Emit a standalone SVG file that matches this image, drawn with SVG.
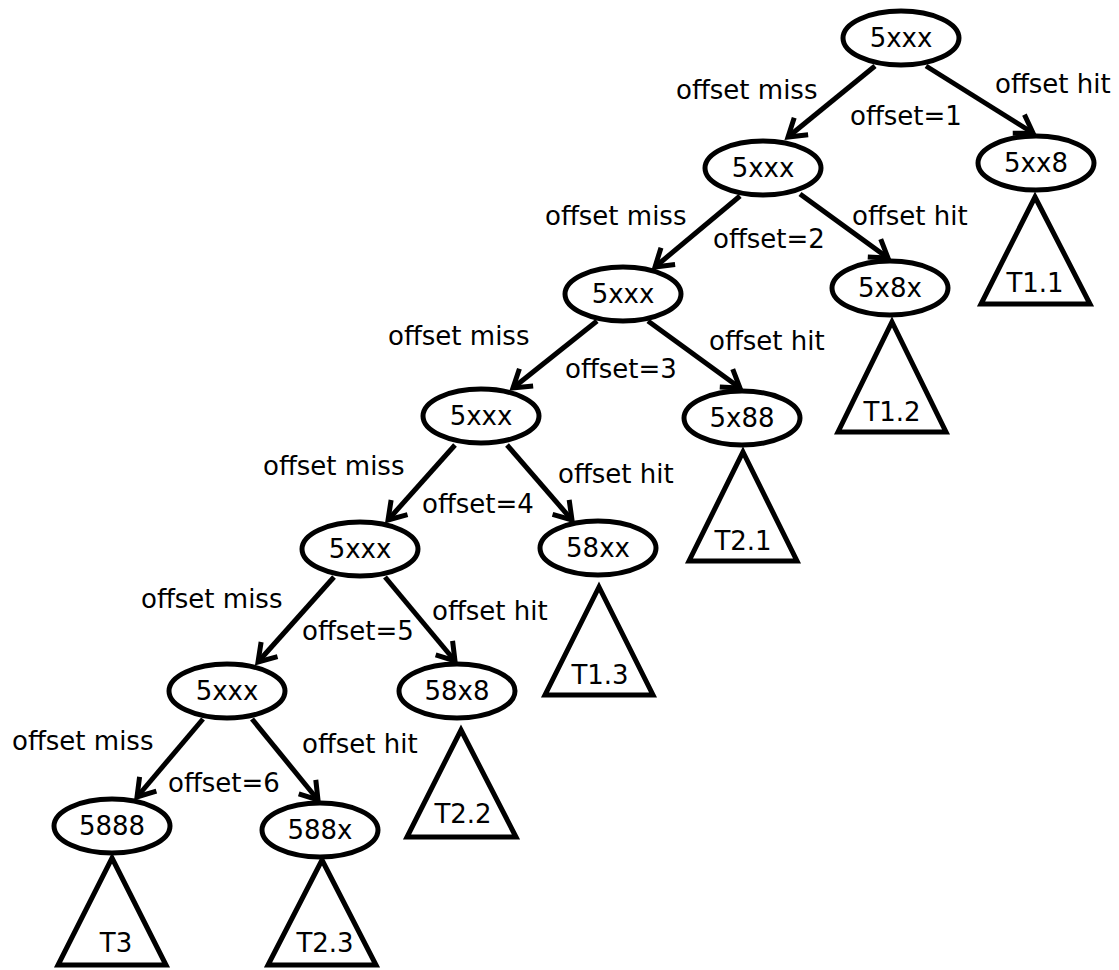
<svg xmlns="http://www.w3.org/2000/svg" width="1119" height="970" viewBox="0 0 1119 970">
  <defs>
    <style>
      text { font-family: "DejaVu Sans", "Liberation Sans", sans-serif; font-size: 26px; fill: #000; }
      .node ellipse { fill: #fff; stroke: #000; stroke-width: 5; }
      .node text, .sub text { text-anchor: middle; }
      .sub polygon { fill: #fff; stroke: #000; stroke-width: 5; stroke-linejoin: miter; }
      .edges line { stroke: #000; stroke-width: 5; marker-end: url(#arrow); }
    </style>
    <marker id="arrow" markerUnits="userSpaceOnUse" markerWidth="30" markerHeight="30" viewBox="0 0 30 30" refX="25" refY="15" orient="auto">
      <path d="M8,4 L25,15 L8,26" fill="none" stroke="#000" stroke-width="5"/>
    </marker>
  </defs>
  <rect width="1119" height="970" fill="#fff"/>

  <!-- connectors -->
  <g id="edges" class="edges">
    <line x1="875" y1="66" x2="788" y2="137"/>
    <line x1="926" y1="66" x2="1033" y2="133"/>
    <line x1="740" y1="196" x2="655" y2="267"/>
    <line x1="800" y1="194" x2="888" y2="258"/>
    <line x1="597" y1="321" x2="513" y2="388"/>
    <line x1="648" y1="321" x2="740" y2="388"/>
    <line x1="455" y1="445" x2="388" y2="520"/>
    <line x1="507" y1="445" x2="572" y2="520"/>
    <line x1="334" y1="577" x2="258" y2="662"/>
    <line x1="385" y1="577" x2="455" y2="661"/>
    <line x1="203" y1="719" x2="137" y2="797"/>
    <line x1="252" y1="719" x2="318" y2="800"/>
  </g>

  <!-- edge labels -->
  <g id="edge-labels">
    <text x="676" y="99">offset miss</text>
    <text x="850" y="125">offset=1</text>
    <text x="995" y="93">offset hit</text>
    <text x="545" y="225">offset miss</text>
    <text x="713" y="248">offset=2</text>
    <text x="852" y="225">offset hit</text>
    <text x="388" y="345">offset miss</text>
    <text x="565" y="378">offset=3</text>
    <text x="709" y="350">offset hit</text>
    <text x="263" y="475">offset miss</text>
    <text x="422" y="513">offset=4</text>
    <text x="558" y="483">offset hit</text>
    <text x="141" y="608">offset miss</text>
    <text x="302" y="640">offset=5</text>
    <text x="432" y="620">offset hit</text>
    <text x="12" y="750">offset miss</text>
    <text x="168" y="792">offset=6</text>
    <text x="302" y="753">offset hit</text>
  </g>

  <!-- subtrees -->
  <g id="t1-1" class="sub"><polygon points="1035,197 1090,304 981,304"/><text x="1035" y="292">T1.1</text></g>
  <g id="t1-2" class="sub"><polygon points="892,322 946,432 838,432"/><text x="892" y="421">T1.2</text></g>
  <g id="t2-1" class="sub"><polygon points="743,452 797,561 689,561"/><text x="743" y="550">T2.1</text></g>
  <g id="t1-3" class="sub"><polygon points="599,587 653,695 545,695"/><text x="600" y="684">T1.3</text></g>
  <g id="t2-2" class="sub"><polygon points="461,730 516,837 407,837"/><text x="463" y="823">T2.2</text></g>
  <g id="t3" class="sub"><polygon points="112,858 166,965 58,965"/><text x="116" y="952">T3</text></g>
  <g id="t2-3" class="sub"><polygon points="322,860 376,965 268,965"/><text x="325" y="952">T2.3</text></g>

  <!-- nodes -->
  <g id="n1" class="node"><ellipse cx="901" cy="38" rx="58" ry="27"/><text x="901" y="47">5xxx</text></g>
  <g id="n2" class="node"><ellipse cx="1036" cy="163" rx="58" ry="27"/><text x="1036" y="172">5xx8</text></g>
  <g id="n3" class="node"><ellipse cx="763" cy="168" rx="58" ry="27"/><text x="763" y="177">5xxx</text></g>
  <g id="n4" class="node"><ellipse cx="890" cy="288" rx="58" ry="27"/><text x="890" y="297">5x8x</text></g>
  <g id="n5" class="node"><ellipse cx="623" cy="294" rx="58" ry="27"/><text x="623" y="303">5xxx</text></g>
  <g id="n6" class="node"><ellipse cx="742" cy="418" rx="58" ry="27"/><text x="742" y="427">5x88</text></g>
  <g id="n7" class="node"><ellipse cx="481" cy="416" rx="58" ry="27"/><text x="481" y="425">5xxx</text></g>
  <g id="n8" class="node"><ellipse cx="598" cy="548" rx="58" ry="27"/><text x="598" y="557">58xx</text></g>
  <g id="n9" class="node"><ellipse cx="360" cy="549" rx="58" ry="27"/><text x="360" y="558">5xxx</text></g>
  <g id="n10" class="node"><ellipse cx="457" cy="691" rx="58" ry="27"/><text x="457" y="700">58x8</text></g>
  <g id="n11" class="node"><ellipse cx="227" cy="691" rx="58" ry="27"/><text x="227" y="700">5xxx</text></g>
  <g id="n12" class="node"><ellipse cx="112" cy="826" rx="58" ry="27"/><text x="112" y="835">5888</text></g>
  <g id="n13" class="node"><ellipse cx="320" cy="830" rx="58" ry="27"/><text x="320" y="839">588x</text></g>
</svg>
